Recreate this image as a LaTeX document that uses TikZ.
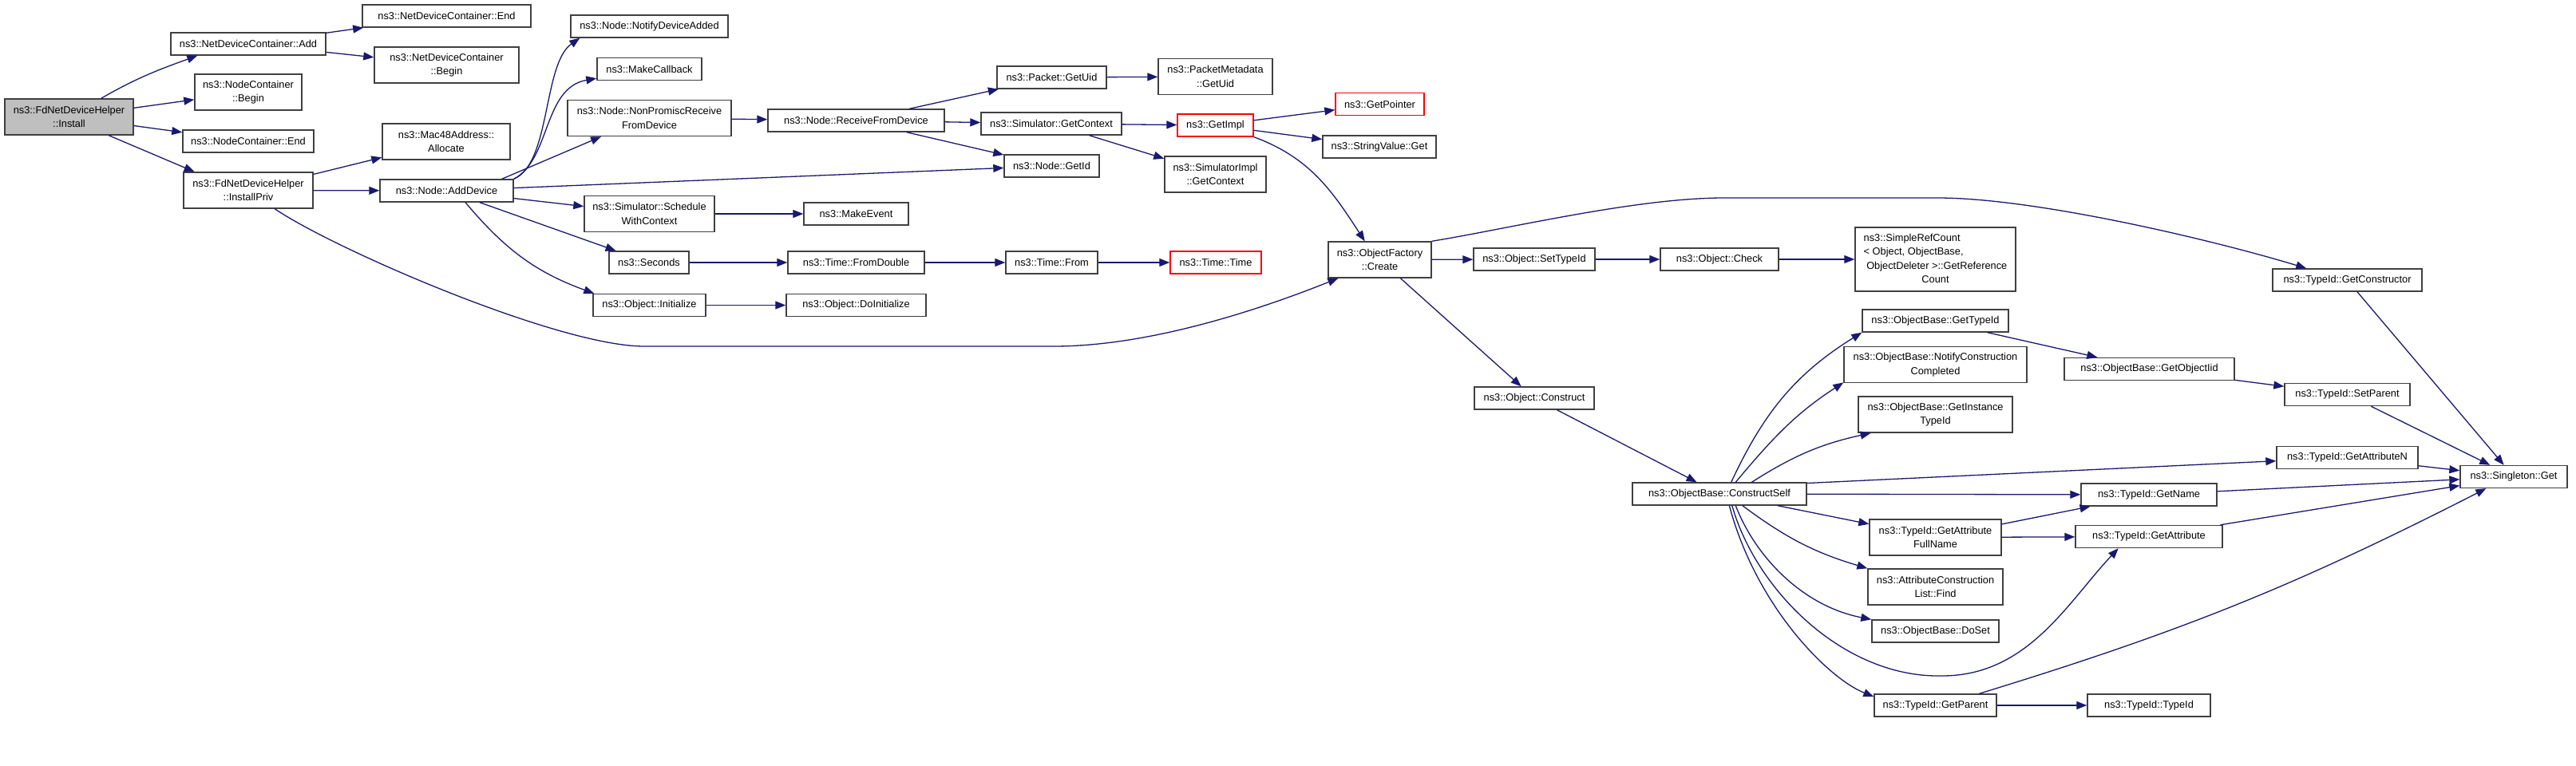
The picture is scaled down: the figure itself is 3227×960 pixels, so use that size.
\documentclass[tikz,border=0pt]{standalone}
\usepackage{fontspec}
\setmainfont{Liberation Sans}
\usepackage{tikz}
\usetikzlibrary{arrows.meta}

\definecolor{edgeblue}{HTML}{191970}
\definecolor{boxgray}{HTML}{BFBFBF}
\definecolor{boxline}{HTML}{404040}

\begin{document}
\begin{tikzpicture}[x=1pt, y=-1pt,
		fn/.style 2 args={draw=boxline, line width=1.4pt, minimum width=#1pt, minimum height=#2pt,
			inner sep=0pt, align=center, font=\fontsize{12.8}{17.4}\selectfont},
		root/.style={fill=boxgray},
		trunc/.style={draw=red},
		call/.style={draw=edgeblue, line width=1.3pt, -{Triangle[length=13pt, width=10pt]}}]
		\useasboundingbox (0,0) rectangle (3227,960);

		% Spalte 1-2
		\node[fn={161}{45}, root] (install) at (86.5,146.5) {ns3::FdNetDeviceHelper\\::Install};
		\node[fn={194}{28}] (add) at (311,55) {ns3::NetDeviceContainer::Add};
		\node[fn={134}{45}] (ncbegin) at (311,115.5) {ns3::NodeContainer\\::Begin};
		\node[fn={164}{28}] (ncend) at (311,177) {ns3::NodeContainer::End};
		\node[fn={162}{45}] (priv) at (311,238.5) {ns3::FdNetDeviceHelper\\::InstallPriv};

		% Spalte 3
		\node[fn={211}{28}] (ndcend) at (559.5,20) {ns3::NetDeviceContainer::End};
		\node[fn={181}{45}] (ndcbegin) at (559.5,81.5) {ns3::NetDeviceContainer\\::Begin};
		\node[fn={160}{45}] (mac) at (559,177.5) {ns3::Mac48Address::\\Allocate};
		\node[fn={167}{28}] (adddev) at (559.5,239) {ns3::Node::AddDevice};

		% Spalte 4
		\node[fn={197}{28}] (notify) at (813.5,33) {ns3::Node::NotifyDeviceAdded};
		\node[fn={131}{28}] (makecb) at (813.5,86.5) {ns3::MakeCallback};
		\node[fn={205}{45}] (nonprom) at (813.5,148) {ns3::Node::NonPromiscReceive\\FromDevice};
		\node[fn={163}{45}] (sched) at (813.5,268) {ns3::Simulator::Schedule\\WithContext};
		\node[fn={100}{28}] (seconds) at (813,329) {ns3::Seconds};
		\node[fn={141}{28}] (init) at (813.5,382.5) {ns3::Object::Initialize};

		% Spalte 5
		\node[fn={221}{28}] (recv) at (1072.5,151) {ns3::Node::ReceiveFromDevice};
		\node[fn={131}{28}] (makeev) at (1072.5,268) {ns3::MakeEvent};
		\node[fn={171}{28}] (fromdbl) at (1072.5,329) {ns3::Time::FromDouble};
		\node[fn={175}{28}] (doinit) at (1072.5,382.5) {ns3::Object::DoInitialize};

		% Spalte 6-7
		\node[fn={137}{28}] (pktuid) at (1317.5,97) {ns3::Packet::GetUid};
		\node[fn={176}{28}] (simctx) at (1317,155) {ns3::Simulator::GetContext};
		\node[fn={119}{28}] (getid) at (1317.5,208) {ns3::Node::GetId};
		\node[fn={115}{28}] (timefrom) at (1317.5,329) {ns3::Time::From};
		\node[fn={143}{45}] (metauid) at (1522.5,96) {ns3::PacketMetadata\\::GetUid};
		\node[fn={95}{28}, trunc] (getimpl) at (1522.5,157) {ns3::GetImpl};
		\node[fn={127}{45}] (implctx) at (1522.5,218.5) {ns3::SimulatorImpl\\::GetContext};
		\node[fn={114}{28}, trunc] (timetime) at (1523,329) {ns3::Time::Time};

		% Spalte 8-9
		\node[fn={111}{28}, trunc] (getptr) at (1728.5,130.5) {ns3::GetPointer};
		\node[fn={142}{28}] (strget) at (1728,184) {ns3::StringValue::Get};
		\node[fn={129}{45}] (create) at (1728.5,325.5) {ns3::ObjectFactory\\::Create};
		\node[fn={152}{28}] (settid) at (1922,325) {ns3::Object::SetTypeId};
		\node[fn={150}{28}] (construct) at (1922,499) {ns3::Object::Construct};
		\node[fn={148}{28}] (check) at (2154,325) {ns3::Object::Check};
		\node[fn={218}{28}] (cself) at (2154,619) {ns3::ObjectBase::ConstructSelf};

		% Spalte 10
		\node[fn={201}{80}] (refcount) at (2424.5,325) {\begin{tabular}{@{}l@{}}ns3::SimpleRefCount\\< Object, ObjectBase,\\\ ObjectDeleter >::GetReference\\\multicolumn{1}{@{}c@{}}{Count}\end{tabular}};
		\node[fn={183}{28}] (obtid) at (2424.5,402) {ns3::ObjectBase::GetTypeId};
		\node[fn={229}{45}] (notifycc) at (2424.5,457) {ns3::ObjectBase::NotifyConstruction\\Completed};
		\node[fn={193}{45}] (insttid) at (2424.5,519.5) {ns3::ObjectBase::GetInstance\\TypeId};
		\node[fn={165}{45}] (fullname) at (2424.5,673.5) {ns3::TypeId::GetAttribute\\FullName};
		\node[fn={169}{45}] (find) at (2424.5,735.5) {ns3::AttributeConstruction\\List::Find};
		\node[fn={159}{28}] (doset) at (2424.5,791) {ns3::ObjectBase::DoSet};
		\node[fn={153}{28}] (getparent) at (2424.5,884) {ns3::TypeId::GetParent};

		% Spalte 11-13
		\node[fn={213}{28}] (objiid) at (2692.5,462.5) {ns3::ObjectBase::GetObjectIid};
		\node[fn={170}{28}] (getname) at (2692,620) {ns3::TypeId::GetName};
		\node[fn={184}{28}] (getattr) at (2692,672.5) {ns3::TypeId::GetAttribute};
		\node[fn={154}{28}] (tidtid) at (2692,884) {ns3::TypeId::TypeId};
		\node[fn={187}{28}] (getctor) at (2940.5,351) {ns3::TypeId::GetConstructor};
		\node[fn={157}{28}] (setparent) at (2940.5,494.5) {ns3::TypeId::SetParent};
		\node[fn={177}{28}] (getattrn) at (2940.5,573.5) {ns3::TypeId::GetAttributeN};
		\node[fn={134}{28}] (singleton) at (3149,597.5) {ns3::Singleton::Get};

		% Aufrufe Install
		\draw[call] (install.30) to[out=30, in=200] (add.193);
		\draw[call] (install) -- (ncbegin);
		\draw[call] (install) -- (ncend);
		\draw[call] (install.-25) -- (priv.161);
		\draw[call] (add) -- (ndcend);
		\draw[call] (add) -- (ndcbegin);

		% Aufrufe InstallPriv
		\draw[call] (priv) -- (mac);
		\draw[call] (priv) -- (adddev);
		\draw[call] (priv.325) .. controls (420,313) and (700,434) .. (807,434) -- (1320,434)
			.. controls (1450,434) and (1598,380) .. (create.204);

		% Aufrufe AddDevice
		\draw[call] (adddev.north east) .. controls (690,205) and (680,80) .. ([xshift=12pt]notify.south west);
		\draw[call] (adddev.north east) .. controls (690,200) and (680,110) .. (makecb.190);
		\draw[call] (adddev.12) -- (nonprom.201);
		\draw[call] (adddev) -- (getid);
		\draw[call] (adddev) -- (sched);
		\draw[call] (adddev) -- (seconds);
		\draw[call] (adddev.328) to[out=-50, in=160] (init.168);

		% Empfang, Zeit, Simulator
		\draw[call] (nonprom) -- (recv);
		\draw[call] (recv) -- (pktuid);
		\draw[call] (recv) -- (simctx);
		\draw[call] (recv) -- (getid);
		\draw[call] (pktuid) -- (metauid);
		\draw[call] (simctx) -- (getimpl);
		\draw[call] (simctx) -- (implctx);
		\draw[call] (getimpl) -- (getptr);
		\draw[call] (getimpl) -- (strget);
		\draw[call] (getimpl.south east) to[out=-20, in=123] (create.129);
		\draw[call] (sched) -- (makeev);
		\draw[call] (seconds) -- (fromdbl);
		\draw[call] (fromdbl) -- (timefrom);
		\draw[call] (timefrom) -- (timetime);
		\draw[call] (init) -- (doinit);

		% Aufrufe Create
		\draw[call] (create) -- (settid);
		\draw[call] (create.north east) .. controls (1893,286) and (2050,248) .. (2160,248) -- (2427,248)
			.. controls (2550,248) and (2773,301) .. (getctor.164);
		\draw[call] (create) -- (construct);
		\draw[call] (settid) -- (check);
		\draw[call] (check) -- (refcount);
		\draw[call] (getctor) -- (singleton);
		\draw[call] (construct) -- (cself);

		% Aufrufe ConstructSelf
		\draw[call] (cself.45) to[out=65, in=212] (obtid.south west);
		\draw[call] (cself.36) to[out=50, in=213] (notifycc.191);
		\draw[call] (cself.20) to[bend left=10] (insttid.196);
		\draw[call] (cself.7) -- (getattrn);
		\draw[call] (cself) -- (getname);
		\draw[call] (cself) -- (fullname);
		\draw[call] (cself.-27) to[bend right=10] (find.north west);
		\draw[call] (cself.-36) .. controls (2200,700) and (2260,760) .. (doset.north west);
		\draw[call] (cself.-43) .. controls (2200,740) and (2310,850) .. (2433,847)
			.. controls (2540,847) and (2590,755) .. (getattr.201);
		\draw[call] (cself.-50) .. controls (2200,760) and (2290,850) .. (getparent.172);

		% TypeId und Singleton
		\draw[call] (obtid) -- (objiid);
		\draw[call] (objiid) -- (setparent);
		\draw[call] (setparent) -- (singleton);
		\draw[call] (getattrn) -- (singleton);
		\draw[call] (getname) -- (singleton);
		\draw[call] (getattr) -- (singleton);
		\draw[call] (getparent.15) to[bend right=5] (singleton.203);
		\draw[call] (getparent) -- (tidtid);
		\draw[call] (fullname) -- (getname);
		\draw[call] (fullname) -- (getattr);
\end{tikzpicture}
\end{document}
